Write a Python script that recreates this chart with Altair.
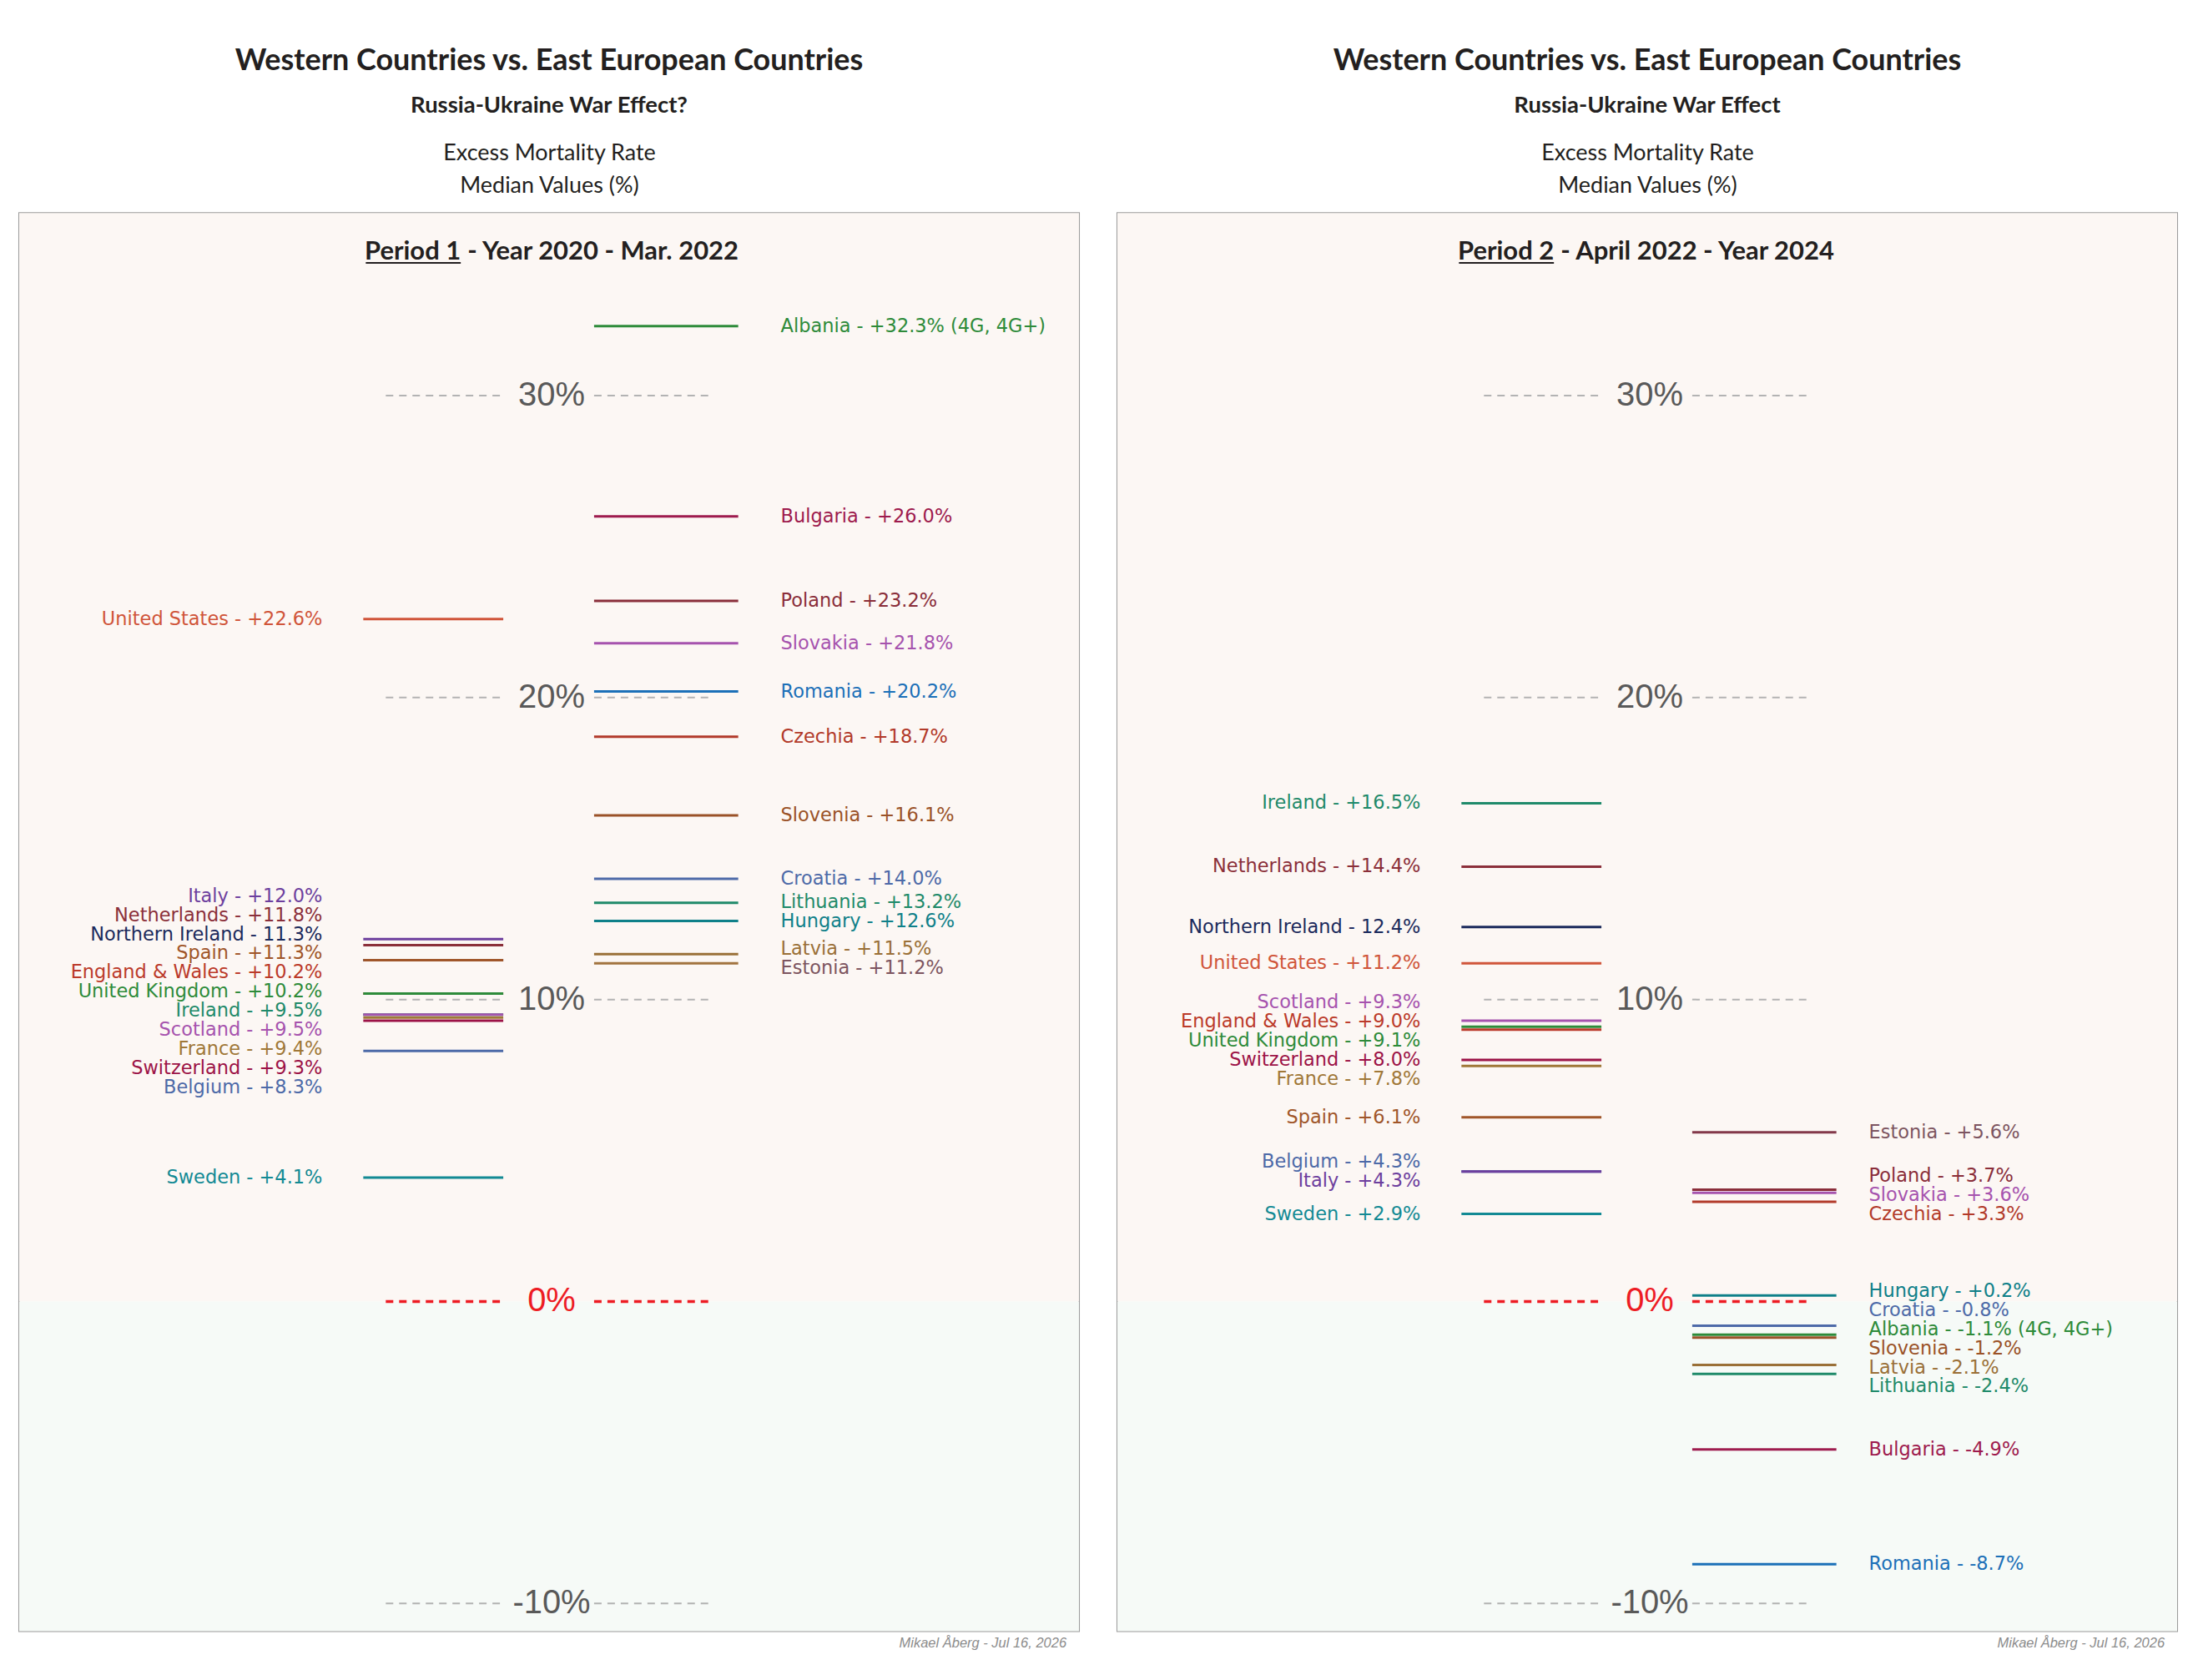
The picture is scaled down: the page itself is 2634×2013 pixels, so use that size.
import altair as alt
import pandas as pd

# ---------------- data ----------------
p1_west_countries = ["United States", "Italy", "Netherlands", "Northern Ireland", "Spain",
                     "England & Wales", "United Kingdom", "Ireland", "Scotland", "France",
                     "Switzerland", "Belgium", "Sweden"]
p1_west_values = [22.6, 12.0, 11.8, 11.3, 11.3, 10.2, 10.2, 9.5, 9.5, 9.4, 9.3, 8.3, 4.1]

p1_east_countries = ["Albania", "Bulgaria", "Poland", "Slovakia", "Romania", "Czechia",
                     "Slovenia", "Croatia", "Lithuania", "Hungary", "Latvia", "Estonia"]
p1_east_values = [32.3, 26.0, 23.2, 21.8, 20.2, 18.7, 16.1, 14.0, 13.2, 12.6, 11.5, 11.2]

p2_west_countries = ["Ireland", "Netherlands", "Northern Ireland", "United States", "Scotland",
                     "England & Wales", "United Kingdom", "Switzerland", "France", "Spain",
                     "Belgium", "Italy", "Sweden"]
p2_west_values = [16.5, 14.4, 12.4, 11.2, 9.3, 9.0, 9.1, 8.0, 7.8, 6.1, 4.3, 4.3, 2.9]

p2_east_countries = ["Estonia", "Poland", "Slovakia", "Czechia", "Hungary", "Croatia",
                     "Albania", "Slovenia", "Latvia", "Lithuania", "Bulgaria", "Romania"]
p2_east_values = [5.6, 3.7, 3.6, 3.3, 0.2, -0.8, -1.1, -1.2, -2.1, -2.4, -4.9, -8.7]

grid_values = [30, 20, 10, -10]
grid_labels = ["30%", "20%", "10%", "-10%"]
zero_value = [0]
zero_label = ["0%"]

label_notes = {"Albania": " (4G, 4G+)"}
no_plus_sign = ["Northern Ireland"]

main_title = "Western Countries vs. East European Countries"
subtitles = ["Russia-Ukraine War Effect?", "Russia-Ukraine War Effect"]
axis_title = ["Excess Mortality Rate", "Median Values (%)"]
period_heads = ["Period 1", "Period 2"]
period_rests = ["- Year 2020 - Mar. 2022", "- April 2022 - Year 2024"]
footer = "Mikael \u00c5berg - Jul 16, 2026"

# ---------------- styles ----------------
COLORS = {
    "United States": "#d0553a", "Italy": "#6d3f9e", "Netherlands": "#8b2f3a",
    "Northern Ireland": "#1b2a5c", "Spain": "#a0562a", "England & Wales": "#bb3a2a",
    "United Kingdom": "#2e8b3a", "Ireland": "#1f8a6a", "Scotland": "#a653ae",
    "France": "#a07838", "Switzerland": "#9c1347", "Belgium": "#4d6aa8",
    "Sweden": "#138a94", "Albania": "#2e8b3a", "Bulgaria": "#9e1b4e", "Poland": "#8a2e3a",
    "Slovakia": "#a653ae", "Romania": "#1c70b8", "Czechia": "#b23a2a", "Slovenia": "#9a5228",
    "Croatia": "#4d6aa8", "Lithuania": "#1f8a6a", "Hungary": "#0f8089", "Latvia": "#9a7038",
    "Estonia": "#7d5560",
    "Estonia line P1": "#a2733f", "Estonia line P2": "#83394a",
}
LINE_OVERRIDES = [{"Estonia": "Estonia line P1"}, {"Estonia": "Estonia line P2"}]
TITLE_FONT = "Lato"
LABEL_FONT = "DejaVu Sans"
TICK_FONT = "Liberation Sans"
INK = "#231f20"

W, H = 1272, 1702
Y_DOMAIN = [-10.92, 36.05]
LABEL_GAP_PX = 23
LABEL_SIZE = 22.5


def fmt_label(c, v):
    if c in no_plus_sign:
        sign = "" if v >= 0 else "-"
    else:
        sign = "+" if v >= 0 else "-"
    return f"{c} - {sign}{abs(v):.1f}%{label_notes.get(c, '')}"


def spread(values, gap):
    """Simple label de-overlap: merge clusters, centre each on the mean of its values."""
    clusters = [[i] for i in range(len(values))]

    def layout(cl):
        c = sum(values[i] for i in cl) / len(cl)
        top = c + (len(cl) - 1) / 2 * gap
        return [top - k * gap for k in range(len(cl))]

    changed = True
    while changed:
        changed = False
        for j in range(len(clusters) - 1):
            a, b = layout(clusters[j]), layout(clusters[j + 1])
            if a[-1] - b[0] < gap - 1e-9:
                clusters[j] = clusters[j] + clusters[j + 1]
                del clusters[j + 1]
                changed = True
                break
    ys = [0.0] * len(values)
    for cl in clusters:
        for i, y in zip(cl, layout(cl)):
            ys[i] = y
    return ys


gap_units = LABEL_GAP_PX * (Y_DOMAIN[1] - Y_DOMAIN[0]) / H
yscale = alt.Scale(domain=Y_DOMAIN, nice=False, zero=False)
cscale = alt.Scale(domain=list(COLORS.keys()), range=list(COLORS.values()))


def group_df(countries, values, overrides):
    return pd.DataFrame({
        "country": countries,
        "line_key": [overrides.get(c, c) for c in countries],
        "value": values,
        "label": [fmt_label(c, v) for c, v in zip(countries, values)],
        "label_y": spread(values, gap_units),
    })


def panel(idx, wc, wv, ec, ev, east_label_x, split_x, head_w):
    west = group_df(wc, wv, LINE_OVERRIDES[idx])
    east = group_df(ec, ev, LINE_OVERRIDES[idx])

    bg_top = alt.Chart(pd.DataFrame({"x0": [0], "x1": [W], "lo": [0], "hi": [Y_DOMAIN[1]]})).mark_rect(
        color="#fcf7f4").encode(
        x=alt.X("x0:Q", scale=alt.Scale(domain=[0, W], nice=False, zero=False),
                axis=alt.Axis(orient="top", title=axis_title, labels=False, ticks=False,
                              domain=False, grid=False, titleFont=TITLE_FONT, titleFontSize=27,
                              titleFontWeight="normal", titleColor=INK, titlePadding=19,
                              titleLineHeight=39)),
        x2="x1:Q",
        y=alt.Y("lo:Q", scale=yscale, axis=None), y2="hi:Q")
    bg_bot = alt.Chart(pd.DataFrame({"lo": [Y_DOMAIN[0]], "hi": [0]})).mark_rect(
        color="#f6faf7").encode(
        x=alt.value(0), x2=alt.value(W),
        y=alt.Y("lo:Q", scale=yscale, axis=None), y2="hi:Q")

    grid_df = pd.DataFrame({"v": grid_values, "t": grid_labels})
    zero_df = pd.DataFrame({"v": zero_value, "t": zero_label})
    layers = [bg_top, bg_bot]
    for x0, x1 in [(440, 583), (690, 832)]:
        layers.append(alt.Chart(grid_df).mark_rule(color="#b3b3b3", strokeWidth=2,
                                                   strokeDash=[9, 7]).encode(
            x=alt.value(x0), x2=alt.value(x1), y=alt.Y("v:Q", scale=yscale, axis=None)))
        layers.append(alt.Chart(zero_df).mark_rule(color="#ed1c24", strokeWidth=3.5,
                                                   strokeDash=[9, 7]).encode(
            x=alt.value(x0), x2=alt.value(x1), y=alt.Y("v:Q", scale=yscale, axis=None)))
    layers.append(alt.Chart(grid_df).mark_text(font=TICK_FONT, fontSize=40, color="#595959",
                                               align="center", baseline="middle").encode(
        x=alt.value(639), y=alt.Y("v:Q", scale=yscale, axis=None), text="t:N"))
    layers.append(alt.Chart(zero_df).mark_text(font=TICK_FONT, fontSize=40, color="#ed1c24",
                                               align="center", baseline="middle").encode(
        x=alt.value(639), y=alt.Y("v:Q", scale=yscale, axis=None), text="t:N"))

    for df, x0, x1 in [(west, 413, 581), (east, 690, 863)]:
        layers.append(alt.Chart(df).mark_rule(strokeWidth=3).encode(
            x=alt.value(x0), x2=alt.value(x1),
            y=alt.Y("value:Q", scale=yscale, axis=None),
            color=alt.Color("line_key:N", scale=cscale, legend=None)))

    layers.append(alt.Chart(west).mark_text(font=LABEL_FONT, fontSize=LABEL_SIZE, align="right",
                                            baseline="middle").encode(
        x=alt.value(364), y=alt.Y("label_y:Q", scale=yscale, axis=None), text="label:N",
        color=alt.Color("country:N", scale=cscale, legend=None)))
    layers.append(alt.Chart(east).mark_text(font=LABEL_FONT, fontSize=LABEL_SIZE, align="left",
                                            baseline="middle").encode(
        x=alt.value(east_label_x), y=alt.Y("label_y:Q", scale=yscale, axis=None), text="label:N",
        color=alt.Color("country:N", scale=cscale, legend=None)))

    head = pd.DataFrame({"a": [period_heads[idx]], "b": [period_rests[idx]]})
    layers.append(alt.Chart(head).mark_text(font=TITLE_FONT, fontSize=31, fontWeight="bold",
                                            color=INK, align="right", baseline="alphabetic").encode(
        x=alt.value(split_x), y=alt.value(56), text="a:N"))
    layers.append(alt.Chart(head).mark_text(font=TITLE_FONT, fontSize=31, fontWeight="bold",
                                            color=INK, align="left", baseline="alphabetic").encode(
        x=alt.value(split_x + 8), y=alt.value(56), text="b:N"))
    layers.append(alt.Chart(head).mark_rule(color=INK, strokeWidth=2).encode(
        x=alt.value(split_x - head_w), x2=alt.value(split_x), y=alt.value(60)))

    layers.append(alt.Chart(pd.DataFrame({"t": [footer]})).mark_text(
        font=TICK_FONT, fontSize=16.5, fontStyle="italic", color="#8c8c8c", align="right",
        baseline="middle").encode(x=alt.value(1257), y=alt.value(H + 14), text="t:N"))

    return alt.layer(*layers).properties(
        width=W, height=H,
        title=alt.TitleParams(text=main_title, subtitle=subtitles[idx], font=TITLE_FONT,
                              fontSize=36, fontWeight="bold", color=INK,
                              subtitleFont=TITLE_FONT, subtitleFontSize=27.5,
                              subtitleFontWeight="bold", subtitleColor=INK,
                              subtitlePadding=21.3, offset=28, anchor="middle"))


left = panel(0, p1_west_countries, p1_west_values, p1_east_countries, p1_east_values,
             914, 530, 114)
right = panel(1, p2_west_countries, p2_west_values, p2_east_countries, p2_east_values,
              902, 524, 114)

chart = alt.hconcat(left, right, spacing=44).properties(
    padding={"left": 14, "top": 44, "right": 16, "bottom": 10},
    background="white",
).configure_view(stroke="#9a9a9a", strokeWidth=2)

chart.save("out.html", embed_options={"renderer": "svg", "actions": False})
